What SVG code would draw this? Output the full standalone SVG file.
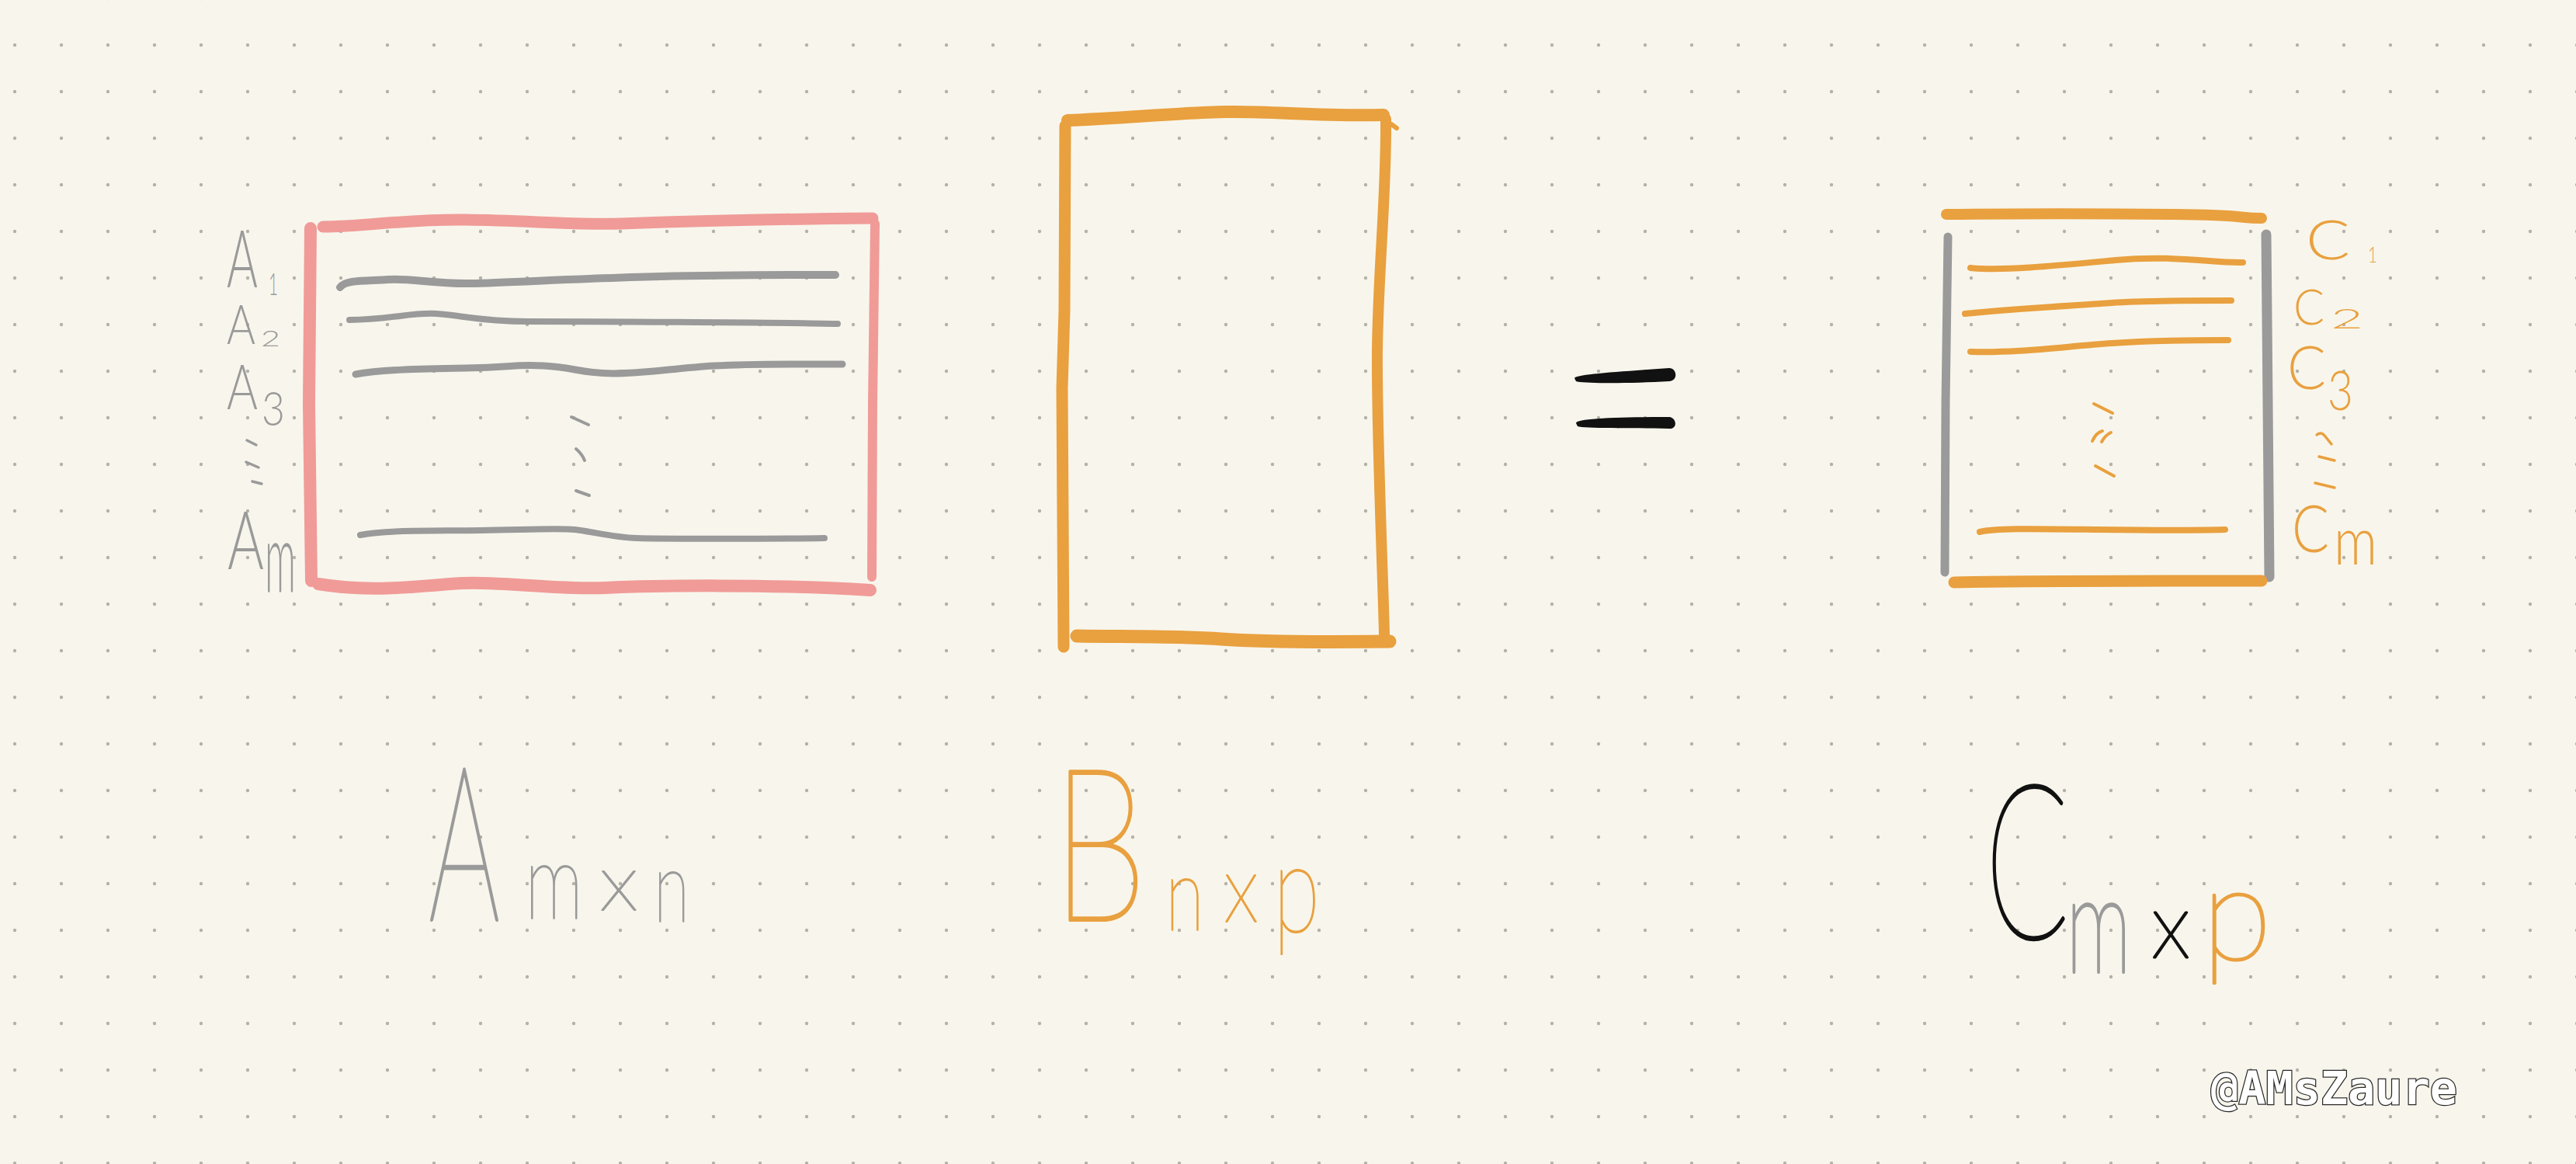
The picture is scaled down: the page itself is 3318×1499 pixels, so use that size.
<svg xmlns="http://www.w3.org/2000/svg" width="3318" height="1499" viewBox="0 0 3318 1499">
<defs>
<pattern id="dots" x="-11" y="28" width="60" height="60" patternUnits="userSpaceOnUse">
<circle cx="30" cy="30" r="2.2" fill="#b3b1a8"/>
</pattern>
<style>
.pk{fill:none;stroke:#f09b98;stroke-linecap:round;stroke-linejoin:round}
.gy{fill:none;stroke:#9a9a9a;stroke-linecap:round;stroke-linejoin:round}
.or{fill:none;stroke:#e9a03f;stroke-linecap:round;stroke-linejoin:round}
.hw{font-family:Lato,"Liberation Sans",sans-serif;font-weight:300}
.big{font-family:Lato,"Liberation Sans",sans-serif;font-weight:100;stroke-linejoin:round}
.tg{fill:#9a9a9a;stroke:#9a9a9a}
.to{fill:#e9a03f;stroke:#e9a03f}
.tk{fill:#111111;stroke:#111111}
.hw .tg,.hw.tg,.hw.to{stroke:none}
.cap{stroke-width:4}
.sub{stroke-width:2}
.wm{font-family:"DejaVu Sans Mono","Liberation Mono",monospace;font-weight:bold;font-size:58px;fill:#ffffff;stroke:#2a2a2a;stroke-width:2.5;paint-order:stroke}
</style>
</defs>
<rect width="3318" height="1499" fill="#f8f6ec"/>
<rect width="3318" height="1499" fill="url(#dots)"/>

<g id="matrix-A">
<path class="pk" stroke-width="15" d="M416,292 C470,292 520,282 600,283 S740,290 800,288 S1000,282 1124,281"/>
<path class="pk" stroke-width="16" d="M400,294 L398,520 L401,748"/>
<path class="pk" stroke-width="12" d="M1127,288 L1124,520 L1123,743"/>
<path class="pk" stroke-width="16" d="M410,752 C470,762 520,757 580,752 S720,760 780,757 S1000,752 1121,760"/>
<path class="gy" stroke-width="10" d="M438,370 C445,360 470,362 500,360 S560,366 607,365 S760,358 850,356 S1000,354 1076,354"/>
<path class="gy" stroke-width="8" d="M450,412 C500,412 530,402 562,404 S620,414 680,414 S1000,415 1079,417"/>
<path class="gy" stroke-width="9" d="M458,482 C490,476 540,475 600,474 S660,469 700,471 S750,481 790,481 S870,474 920,471 S1030,469 1085,469"/>
<path class="gy" stroke-width="8" d="M464,689 C500,682 560,684 620,683 S720,680 740,682 S790,692 820,693 S1000,694 1062,693"/>
<path class="gy" stroke-width="4" d="M736,537 L758,547 M742,578 Q750,585 753,593 M742,632 L759,638"/>
</g>

<g id="labels-A">
<text class="hw tg"><tspan x="292" y="370" font-size="102" textLength="40" lengthAdjust="spacingAndGlyphs">A</tspan><tspan x="346" y="380" font-size="40" textLength="12" lengthAdjust="spacingAndGlyphs">1</tspan></text>
<text class="hw tg"><tspan x="292" y="443" font-size="71" textLength="37" lengthAdjust="spacingAndGlyphs">A</tspan><tspan x="336" y="446" font-size="28" textLength="25" lengthAdjust="spacingAndGlyphs">2</tspan></text>
<text class="hw tg"><tspan x="292" y="527" font-size="80" textLength="40" lengthAdjust="spacingAndGlyphs">A</tspan><tspan x="337" y="548" font-size="62" textLength="30" lengthAdjust="spacingAndGlyphs">3</tspan></text>
<path class="gy" stroke-width="3.5" d="M318,567 L330,573 M317,595 L333,602 M325,620 L337,623"/>
<text class="hw tg"><tspan x="293" y="733" font-size="104" textLength="47" lengthAdjust="spacingAndGlyphs">A</tspan><tspan x="341" y="762" font-size="125" textLength="40" lengthAdjust="spacingAndGlyphs">m</tspan></text>
</g>

<g id="matrix-B">
<path class="or" stroke-width="16" d="M1375,155 C1450,152 1520,145 1580,144 S1700,150 1782,148"/>
<path class="or" stroke-width="15" d="M1372,162 L1371,400 L1368,500 L1370,833"/>
<path class="or" stroke-width="14" d="M1785,153 C1786,250 1775,350 1774,452 S1782,760 1783,817"/>
<path class="or" stroke-width="6" d="M1792,160 L1799,165"/>
<path class="or" stroke-width="17" d="M1387,819 C1450,820 1520,819 1573,823 S1700,827 1790,826"/>
</g>

<g id="equals">
<path fill="#111111" d="M2028,487 C2030,482 2080,479 2150,474 C2160,474 2162,490 2150,491 C2100,494 2040,494 2030,491 Z"/>
<path fill="#111111" d="M2030,545 C2030,539 2080,537 2150,537 C2160,538 2161,553 2150,552 C2100,551 2040,552 2032,549 Z"/>
</g>

<g id="matrix-C">
<path class="or" stroke-width="14" d="M2507,276 C2600,275 2700,275 2800,276 S2880,281 2913,281"/>
<path class="gy" stroke-width="11" d="M2509,305 L2506,520 L2505,737"/>
<path class="gy" stroke-width="13" d="M2919,302 L2921,520 L2923,743"/>
<path class="or" stroke-width="15" d="M2517,750 C2600,748 2800,748 2913,748"/>
<path class="or" stroke-width="8" d="M2538,345 C2580,349 2650,342 2725,335 S2850,339 2889,338"/>
<path class="or" stroke-width="8" d="M2531,404 C2600,397 2680,393 2720,390 S2840,387 2874,387"/>
<path class="or" stroke-width="8" d="M2538,453 C2600,455 2660,446 2720,442 S2840,438 2870,438"/>
<path class="or" stroke-width="8" d="M2550,685 C2570,680 2620,681 2700,682 S2830,683 2866,682"/>
<path class="or" stroke-width="4" d="M2697,520 L2721,532 M2695,568 Q2700,557 2708,555 M2707,569 Q2712,560 2719,557 M2699,600 L2723,613"/>
</g>

<g id="labels-C">
<text class="hw to"><tspan x="2970" y="334" font-size="70" textLength="57" lengthAdjust="spacingAndGlyphs">C</tspan><tspan x="3050" y="338" font-size="27" textLength="12" lengthAdjust="spacingAndGlyphs">1</tspan></text>
<text class="hw to"><tspan x="2954" y="418" font-size="63" textLength="40" lengthAdjust="spacingAndGlyphs">C</tspan><tspan x="3002" y="423" font-size="35" textLength="42" lengthAdjust="spacingAndGlyphs">2</tspan></text>
<text class="hw to"><tspan x="2946" y="501" font-size="77" textLength="50" lengthAdjust="spacingAndGlyphs">C</tspan><tspan x="2998" y="528" font-size="70" textLength="33" lengthAdjust="spacingAndGlyphs">3</tspan></text>
<path class="or" stroke-width="3.5" d="M2984,560 Q2990,555 2995,562 L3003,572 M2987,588 L3007,593 M2982,622 L3007,628"/>
<text class="hw to"><tspan x="2952" y="711" font-size="84" textLength="48" lengthAdjust="spacingAndGlyphs">C</tspan><tspan x="3006" y="727" font-size="86" textLength="56" lengthAdjust="spacingAndGlyphs">m</tspan></text>
</g>

<g id="label-A-mxn">
<text class="big tg"><tspan class="cap" x="552" y="1185" font-size="278" textLength="92" lengthAdjust="spacingAndGlyphs">A</tspan><tspan class="sub" x="676" y="1183" font-size="137" textLength="75" lengthAdjust="spacingAndGlyphs">m</tspan><tspan class="sub" x="772" y="1172" font-size="102" textLength="50" lengthAdjust="spacingAndGlyphs">x</tspan><tspan class="sub" x="842" y="1187" font-size="128" textLength="46" lengthAdjust="spacingAndGlyphs">n</tspan></text>
</g>

<g id="label-B-nxp">
<text class="big to"><tspan class="cap" x="1355" y="1185" font-size="274" textLength="122" lengthAdjust="spacingAndGlyphs">B</tspan><tspan class="sub" x="1501" y="1198" font-size="133" textLength="50" lengthAdjust="spacingAndGlyphs">n</tspan><tspan class="sub" x="1576" y="1187" font-size="122" textLength="45" lengthAdjust="spacingAndGlyphs">x</tspan><tspan class="sub" x="1640" y="1200" font-size="160" textLength="60" lengthAdjust="spacingAndGlyphs">p</tspan></text>
</g>

<g id="label-C-mxp">
<text class="big"><tspan class="tk cap" x="2557" y="1208" font-size="278" textLength="108" lengthAdjust="spacingAndGlyphs">C</tspan><tspan class="tg" stroke-width="4" x="2661" y="1252" font-size="176" textLength="84" lengthAdjust="spacingAndGlyphs">m</tspan><tspan class="tk" stroke-width="3" x="2771" y="1233" font-size="118" textLength="50" lengthAdjust="spacingAndGlyphs">x</tspan><tspan class="to" stroke-width="3" x="2836" y="1236" font-size="170" textLength="90" lengthAdjust="spacingAndGlyphs">p</tspan></text>
</g>

<g id="watermark">
<text class="wm" x="2848" y="1422" textLength="317" lengthAdjust="spacingAndGlyphs">@AMsZaure</text>
</g>
</svg>
